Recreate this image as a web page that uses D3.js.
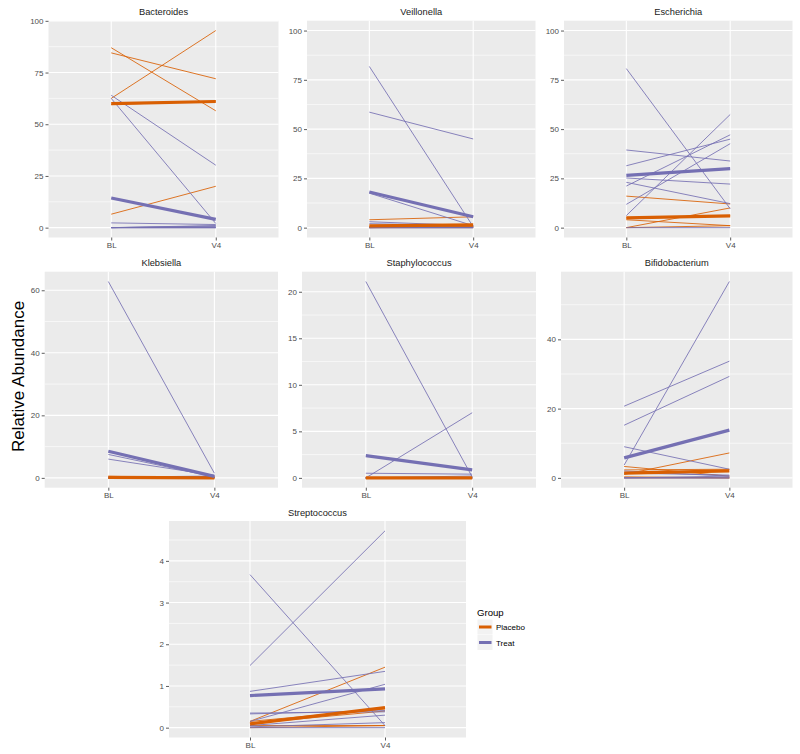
<!DOCTYPE html>
<html><head><meta charset="utf-8">
<script src="https://cdn.jsdelivr.net/npm/d3@7"></script>
<style>body{margin:0;background:#fff}svg{display:block}text{font-family:"Liberation Sans",Arial,sans-serif}</style>
</head><body><svg id="c" width="800" height="754"></svg>
<script>
// ---- data ----
const genera = ["Bacteroides","Veillonella","Escherichia","Klebsiella","Staphylococcus","Bifidobacterium","Streptococcus"];
const timepoints = ["BL","V4"];
const groups = ["Placebo","Treat"];
const yTickValues = [[0,25,50,75,100],[0,25,50,75,100],[0,25,50,75,100],[0,20,40,60],[0,5,10,15,20],[0,20,40],[0,1,2,3,4]];
const yLimit = [95.3,100,100,62.8,21.1,56.7,4.72];
const placeboBL = [
  [87,84.5,62.5,6.5,59.5],
  [4,0.5,0.2,0,0],
  [16,5,4,0,0],
  [0.5,0.2,0,0,0],
  [0,0,0,0,0],
  [3.3,1,2.3,0.3,0],
  [0.15,0.15,0.1,0.05,0]
];
const placeboV4 = [
  [56.5,72,95.3,20,61.2],
  [5.5,0.5,0.5,0.3,0],
  [12,6,1,10,1],
  [0,0.1,0,0,0],
  [0,0,0,0,0],
  [0.5,7.2,2.5,0,0],
  [1.45,0.45,0.4,0.05,0.05]
];
const treatBL = [
  [64,62.5,2.3,0,0,0,0,0,0],
  [81.8,58.6,17.5,3,2,0,0,0,0],
  [80.7,39.4,31.4,25.2,23,21.1,11.8,6.1,0],
  [62.8,7.5,6,0.2,0,0,0,0,0],
  [21.1,0,0.5,0,0,0,0,0,0],
  [3.7,20.7,15.2,9,2,1.4,0,0,0],
  [1.49,3.67,0.87,0.33,0.15,0.05,0.02,0.35,0]
];
const treatV4 = [
  [30.2,2,1.5,1,0.8,0.5,0,0,0],
  [0.5,45,1,1,1,1,0,0,0],
  [9.6,33.8,44.9,22.1,12.2,47.1,42.6,57.4,0],
  [1.5,0.3,0.8,0.6,0.5,0.4,0.2,0.2,0],
  [0.1,7,0.4,0.2,0,0,0,0,0],
  [56.7,33.7,29.3,2.5,0.5,0.8,0.5,0,0],
  [4.72,0.05,1.35,0.41,1.04,0.3,0.12,0.38,0]
];
const groupColors = ["#d95f02","#7570b3"];

// ---- layout ----
const panels = [
  {x0:48.5,x1:278.5,y0:20.7,y1:237.5},
  {x0:307,x1:535.5,y0:20.7,y1:237.5},
  {x0:564,x1:792.5,y0:20.7,y1:237.5},
  {x0:44.7,x1:278,y0:271.7,y1:487.7},
  {x0:302,x1:536,y0:271.7,y1:487.7},
  {x0:561,x1:792.5,y0:271.7,y1:487.7},
  {x0:169,x1:466,y0:521,y1:737.5}
];

const svg = d3.select("#c");
svg.append("rect").attr("width",800).attr("height",754).attr("fill","#fff");

const color = d3.scaleOrdinal().domain(groups).range(groupColors);

genera.forEach((g,i)=>{
  const p = panels[i];
  const R = yLimit[i];
  const y = d3.scaleLinear().domain([-0.05*R, R*1.05]).range([p.y1,p.y0]);
  const x = d3.scalePoint().domain(timepoints).range([p.x0,p.x1]).padding(0.6);
  const G = svg.append("g");
  G.append("rect").attr("x",p.x0).attr("y",p.y0).attr("width",p.x1-p.x0).attr("height",p.y1-p.y0).attr("fill","#ebebeb");
  const ticks = yTickValues[i];
  const step = ticks[1]-ticks[0];
  const minors = [];
  for(let v=ticks[0]-step/2; v<=R*1.05; v+=step){ if(v>=-0.05*R && !ticks.includes(v)) minors.push(v); }
  G.selectAll(".mn").data(minors).join("line").attr("x1",p.x0).attr("x2",p.x1)
    .attr("y1",d=>y(d)).attr("y2",d=>y(d)).attr("stroke","#fff").attr("stroke-width",0.6);
  G.selectAll(".mj").data(ticks).join("line").attr("x1",p.x0).attr("x2",p.x1)
    .attr("y1",d=>y(d)).attr("y2",d=>y(d)).attr("stroke","#fff").attr("stroke-width",1.1);
  G.selectAll(".mv").data(timepoints).join("line").attr("x1",d=>x(d)).attr("x2",d=>x(d))
    .attr("y1",p.y0).attr("y2",p.y1).attr("stroke","#fff").attr("stroke-width",1.1);

  // individual lines
  const series = [
    {grp:"Placebo", bl:placeboBL[i], v4:placeboV4[i]},
    {grp:"Treat", bl:treatBL[i], v4:treatV4[i]}
  ];
  series.forEach(s=>{
    const pairs = s.bl.map((b,k)=>[b, s.v4[k]]);
    G.selectAll(null).data(pairs).join("line")
      .attr("x1",x("BL")).attr("x2",x("V4"))
      .attr("y1",d=>y(d[0])).attr("y2",d=>y(d[1]))
      .attr("stroke",color(s.grp)).attr("stroke-width",1).attr("stroke-opacity",0.85);
  });
  series.forEach(s=>{
    const m = [d3.mean(s.bl), d3.mean(s.v4)];
    G.append("line").attr("x1",x("BL")).attr("x2",x("V4"))
      .attr("y1",y(m[0])).attr("y2",y(m[1]))
      .attr("stroke",color(s.grp)).attr("stroke-width",3.2).attr("stroke-linecap","butt");
  });

  // axes
  const ay = G.append("g").attr("transform",`translate(${p.x0},0)`)
    .call(d3.axisLeft(y).tickValues(ticks).tickSize(3).tickPadding(2).tickFormat(d3.format("d")));
  ay.select(".domain").remove();
  ay.selectAll("line").attr("stroke","#333").attr("stroke-width",0.8);
  ay.selectAll("text").attr("fill","#4d4d4d").style("font-size","8px");
  const ax = G.append("g").attr("transform",`translate(0,${p.y1})`)
    .call(d3.axisBottom(x).tickSize(3).tickPadding(2));
  ax.select(".domain").remove();
  ax.selectAll("line").attr("stroke","#333").attr("stroke-width",0.8);
  ax.selectAll("text").attr("fill","#4d4d4d").style("font-size","8px");

  G.append("text").attr("x",(p.x0+p.x1)/2).attr("y",p.y0-5.5).attr("text-anchor","middle")
    .attr("fill","#1a1a1a").style("font-size","9.3px").text(g);
});

// y title
svg.append("text").attr("transform","translate(24.3,376.5) rotate(-90)").attr("text-anchor","middle")
  .attr("fill","#000").style("font-size","17px").text("Relative Abundance");

// legend
const lg = svg.append("g");
lg.append("text").attr("x",477).attr("y",616).attr("fill","#000").style("font-size","9.6px").text("Group");
groups.forEach((gname,k)=>{
  const cy = 627 + k*15.5;
  lg.append("rect").attr("x",477.5).attr("y",cy-7.5).attr("width",15).attr("height",15).attr("fill","#f2f2f2");
  lg.append("line").attr("x1",479).attr("x2",491.5).attr("y1",cy).attr("y2",cy)
    .attr("stroke",color(gname)).attr("stroke-width",3);
  lg.append("text").attr("x",496).attr("y",cy+3).attr("fill","#000").style("font-size","8px").text(gname);
});
</script></body></html>
